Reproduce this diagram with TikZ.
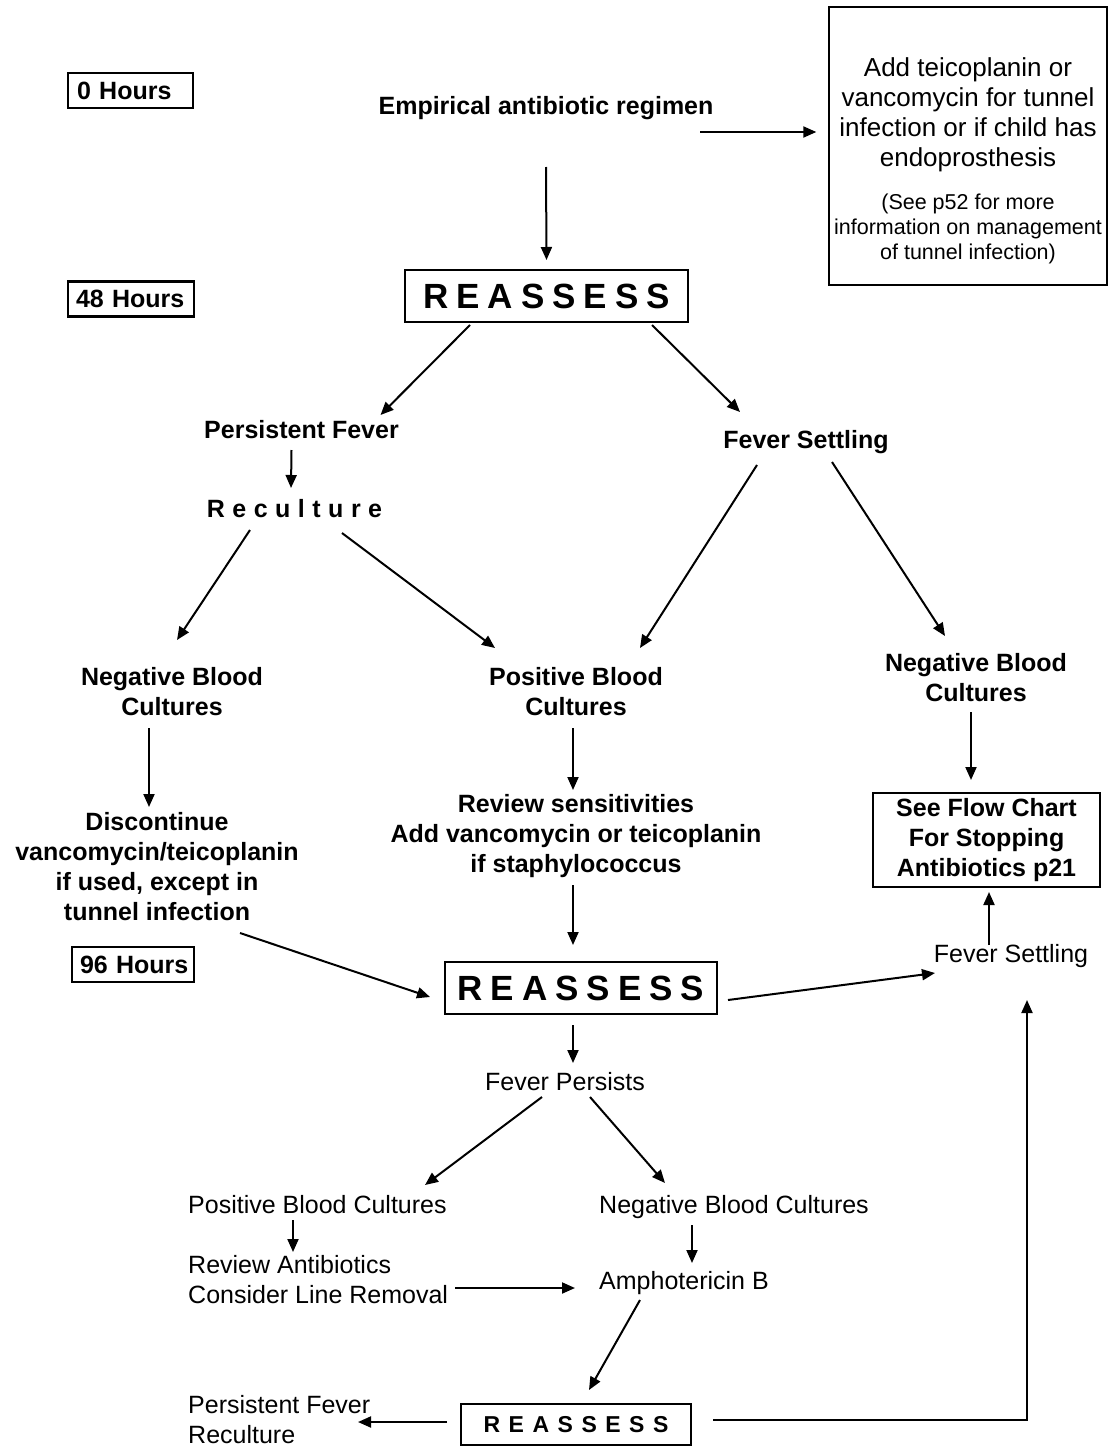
\documentclass[tikz,border=0pt]{standalone}
\usepackage{fontspec}
\setmainfont{Liberation Sans}
\usetikzlibrary{arrows.meta,calc}

% letter-spaced word helpers
\newcommand\bigreassess{R\kern8pt E\kern8pt A\kern8pt S\kern8pt S\kern8pt E\kern8pt S\kern8pt S}
\newcommand\smallreassess{R\kern8.5pt E\kern8.5pt A\kern8.5pt S\kern8.5pt S\kern8.5pt E\kern8.5pt S\kern8.5pt S}
\newcommand\spreadreculture{R\kern7.5pt e\kern7.5pt c\kern7.5pt u\kern7.5pt l\kern7.5pt t\kern7.5pt u\kern7.5pt r\kern7.5pt e}

\tikzset{
  txt/.style={inner sep=0pt, align=center, font=\fontsize{25}{30}\selectfont},
  btxt/.style={inner sep=0pt, align=center, font=\fontsize{25}{30}\selectfont\bfseries},
  ltxt/.style={inner sep=0pt, align=left, anchor=west, font=\fontsize{25}{30}\selectfont},
  hourbox/.style={draw, line width=2.8pt, inner ysep=0pt, minimum height=35pt,
                  align=left, font=\fontsize{25}{30}\selectfont\bfseries},
  bigbox/.style={draw, line width=2.2pt, inner sep=0pt, font=\fontsize{35}{40}\selectfont\bfseries},
  arr/.style={line width=2pt, -{Triangle[length=13pt,width=11pt]}},
}

\begin{document}
\begin{tikzpicture}[x=1pt,y=-1pt]
\useasboundingbox[fill=white] (0,0) rectangle (1108,1448);

% time markers
\node[hourbox, inner xsep=9pt, text width=107pt] (h0)  at (130.5,90.5) {\mbox{0 Hours}};
\node[hourbox, inner xsep=8pt, text width=110pt] (h48) at (131,299) {\mbox{48 Hours}};
\node[hourbox, inner xsep=8pt, text width=106pt] (h96) at (133,964.5) {\mbox{96 Hours}};

% first stage
\node[btxt] (emp) at (546,108) {Empirical antibiotic regimen};
\node[draw, line width=1.4pt, minimum width=278pt, minimum height=278pt, inner sep=0pt] (trbox) at (968,146) {};
\node[txt, font=\fontsize{26}{30}\selectfont] (trA) at (968,115)
  {Add teicoplanin or\\vancomycin for tunnel\\infection or if child has\\endoprosthesis};
\node[txt, font=\fontsize{21.5}{25}\selectfont] (trB) at (968,229)
  {(See p52 for more\\information on management\\of tunnel infection)};

\node[bigbox, minimum width=283pt, minimum height=52pt] (ra1) at (546.5,296) {\bigreassess};

% 48 hour branches
\node[btxt] (pf)  at (301.5,430) {Persistent Fever};
\node[btxt] (rec) at (294.5,509) {\spreadreculture};
\node[btxt] (fs1) at (806,442) {Fever Settling};

\node[btxt] (nbc1) at (172,692) {Negative Blood\\Cultures};
\node[btxt] (pbc1) at (576,692) {Positive Blood\\Cultures};
\node[btxt] (nbc2) at (976,678) {Negative Blood\\Cultures};

\node[btxt] (disc) at (157,867) {Discontinue\\vancomycin/teicoplanin\\if used, except in\\tunnel infection};
\node[btxt] (rev) at (576,836) {Review sensitivities\\Add vancomycin or teicoplanin\\if staphylococcus};
\node[btxt, draw, line width=2.2pt, minimum width=227pt, minimum height=94pt] (see) at (986.5,840)
  {See Flow Chart\\For Stopping\\Antibiotics p21};

% 96 hour stage
\node[bigbox, minimum width=272pt, minimum height=52pt] (ra2) at (581,988) {\bigreassess};
\node[txt] (fs2) at (1011,956) {Fever Settling};
\node[txt] (fp)  at (565,1082) {Fever Persists};

\node[ltxt] (pbc2) at (188,1205) {Positive Blood Cultures};
\node[ltxt] (rab)  at (188,1280) {Review Antibiotics\\Consider Line Removal};
\node[ltxt] (nbc3) at (599,1207) {Negative Blood Cultures};
\node[ltxt] (amb)  at (599,1283) {Amphotericin B};

\node[draw, line width=2pt, inner sep=0pt, minimum width=230pt, minimum height=41pt,
      font=\fontsize{23}{28}\selectfont\bfseries] (ra3) at (576,1424.5) {\smallreassess};
\node[ltxt] (pfr) at (188,1420) {Persistent Fever\\Reculture};

% connectors
\draw[arr] ($(emp)+(154,24)$) -- ($(trbox.west)+(-12,-14)$);
\draw[arr] ($(emp)+(0,59)$) -- ($(ra1)+(0,-36)$);
\draw[arr] ($(ra1)+(-76.5,29)$) -- ($(pf)+(79,-15)$);
\draw[arr] ($(ra1)+(105.5,29)$) -- ($(fs1)+(-66,-30)$);
\draw[arr] ($(pf)+(-10,20)$) -- ($(rec)+(-3.5,-21)$);
\draw[arr] ($(rec)+(-44.5,21)$) -- ($(nbc1)+(5,-52)$);
\draw[arr] ($(rec)+(47.5,24)$) -- ($(pbc1)+(-81,-44)$);
\draw[arr] ($(fs1)+(-49,23)$) -- ($(pbc1)+(64,-44)$);
\draw[arr] ($(fs1)+(26,20)$) -- ($(nbc2)+(-31,-42)$);
\draw[arr] ($(nbc1)+(-23,36)$) -- ($(disc)+(-8,-60)$);
\draw[arr] ($(pbc1)+(-3,36)$) -- ($(rev)+(-3,-46)$);
\draw[arr] ($(nbc2)+(-5,34)$) -- ($(see)+(-15.5,-60)$);
\draw[arr] ($(rev)+(-3,49)$) -- ($(ra2)+(-8,-43)$);
\draw[arr] ($(disc)+(83,66)$) -- ($(ra2)+(-151,9)$);
\draw[arr] ($(ra2)+(147,12)$) -- ($(fs2)+(-76,17)$);
\draw[arr] ($(fs2)+(-22,-11)$) -- ($(see)+(2.5,52)$);
\draw[arr] ($(ra2)+(-8,37)$) -- ($(fp)+(8,-19)$);
\draw[arr] ($(fp)+(-23,15)$) -- ($(pbc2.west)+(237,-20)$);
\draw[arr] ($(fp)+(25,15)$) -- ($(nbc3.west)+(66,-24)$);
\draw[arr] ($(pbc2.west)+(105,15)$) -- ($(rab.west)+(105,-28)$);
\draw[arr] ($(rab.west)+(267,8)$) -- ($(amb.west)+(-24,5)$);
\draw[arr] ($(nbc3.west)+(93,18)$) -- ($(amb.west)+(93,-20)$);
\draw[arr] ($(amb.west)+(41,17)$) -- ($(ra3)+(13,-34.5)$);
\draw[arr] ($(ra3)+(-129,-2.5)$) -- ($(pfr.west)+(170,2)$);
\draw[arr] ($(ra3)+(137,-4.5)$) -| ($(fs2)+(16,44)$);
\end{tikzpicture}
\end{document}
